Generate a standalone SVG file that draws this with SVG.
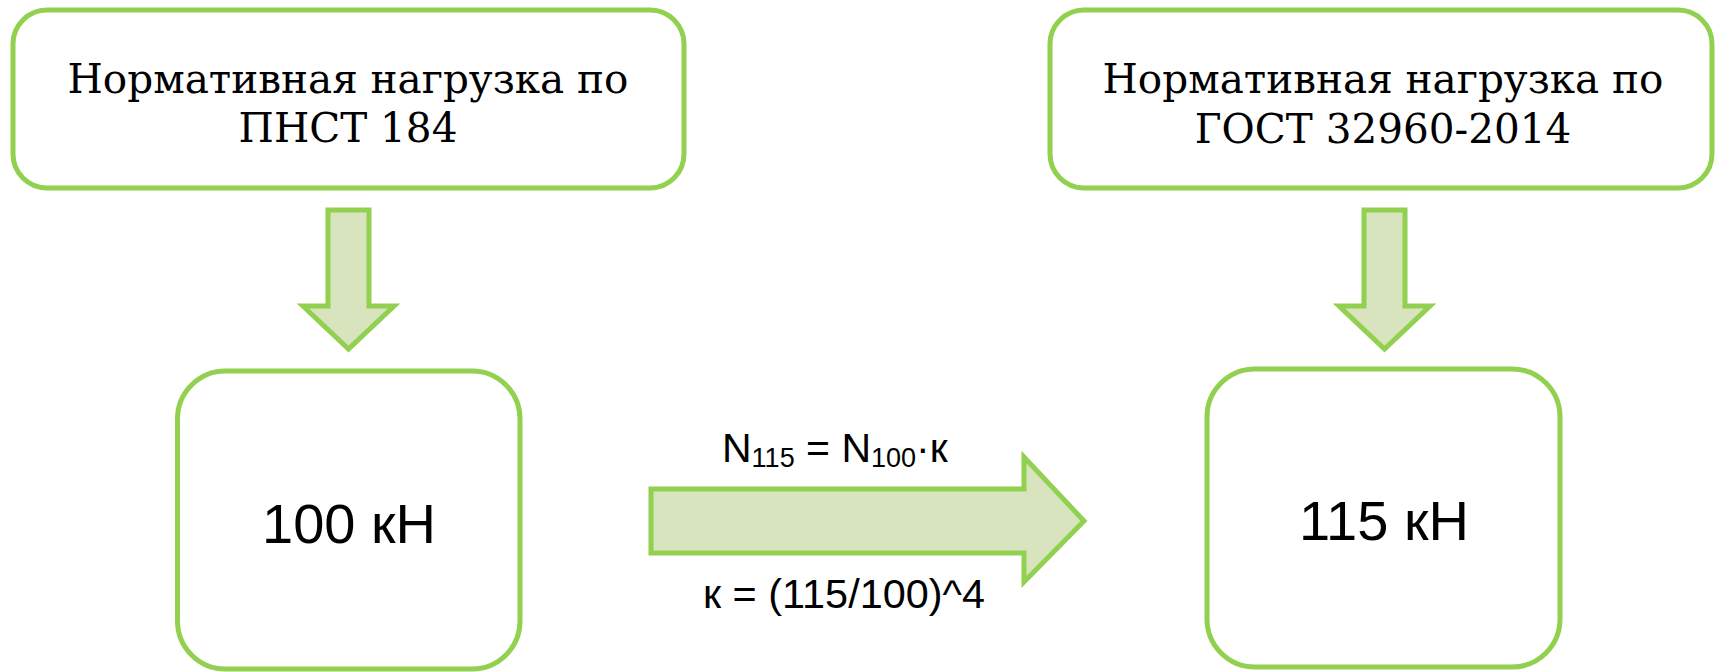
<svg xmlns="http://www.w3.org/2000/svg" width="1717" height="672" viewBox="0 0 1717 672">
  <style>
    .box { fill: #FFFFFF; stroke: #92D050; stroke-width: 5; }
    .arrow { fill: #D7E4BD; stroke: #92D050; stroke-width: 5; stroke-linejoin: miter; }
    .title { font-family: "DejaVu Serif", "Liberation Serif", serif; font-size: 40.5px; fill: #000000; text-anchor: middle; }
    .value { font-family: "Liberation Sans", Arial, sans-serif; font-size: 56px; fill: #000000; text-anchor: middle; }
    .formula { font-family: "Liberation Sans", Arial, sans-serif; font-size: 41px; fill: #000000; }
    .sub { font-size: 27px; }
  </style>
  <rect width="1717" height="672" fill="#FFFFFF"/>

  <!-- block arrows between the boxes, with the conversion formula -->
  <g id="connectors">
    <polygon class="arrow" points="328,210 369,210 369,306 394,306 348.5,349 303,306 328,306"/>
    <polygon class="arrow" points="1364,210 1405,210 1405,306 1430,306 1384.5,349 1339,306 1364,306"/>
    <polygon class="arrow" points="651,489 1024,489 1024,457 1084,521 1024,582 1024,553 651,553"/>
    <text class="formula" x="722" y="462">N<tspan class="sub" dy="5">115</tspan><tspan dy="-5"> = N</tspan><tspan class="sub" dy="5">100</tspan><tspan dy="-5">·к</tspan></text>
    <text class="formula" x="703" y="608" font-size="38" textLength="282" lengthAdjust="spacingAndGlyphs">к = (115/100)^4</text>
  </g>

  <g id="node-pnst">
    <rect class="box" x="13" y="10" width="671" height="178" rx="34" ry="34"/>
    <text class="title" x="348" y="93">Нормативная нагрузка по</text>
    <text class="title" x="348" y="142">ПНСТ 184</text>
  </g>

  <g id="node-gost">
    <rect class="box" x="1050" y="10" width="662" height="178" rx="34" ry="34"/>
    <text class="title" x="1383" y="93">Нормативная нагрузка по</text>
    <text class="title" x="1383" y="143">ГОСТ 32960-2014</text>
  </g>

  <g id="node-100">
    <rect class="box" x="177.5" y="371" width="342.5" height="298" rx="48" ry="48"/>
    <text class="value" x="349" y="543">100 кН</text>
  </g>

  <g id="node-115">
    <rect class="box" x="1207" y="369" width="353" height="298" rx="48" ry="48"/>
    <text class="value" x="1384" y="540">115 кН</text>
  </g>
</svg>
